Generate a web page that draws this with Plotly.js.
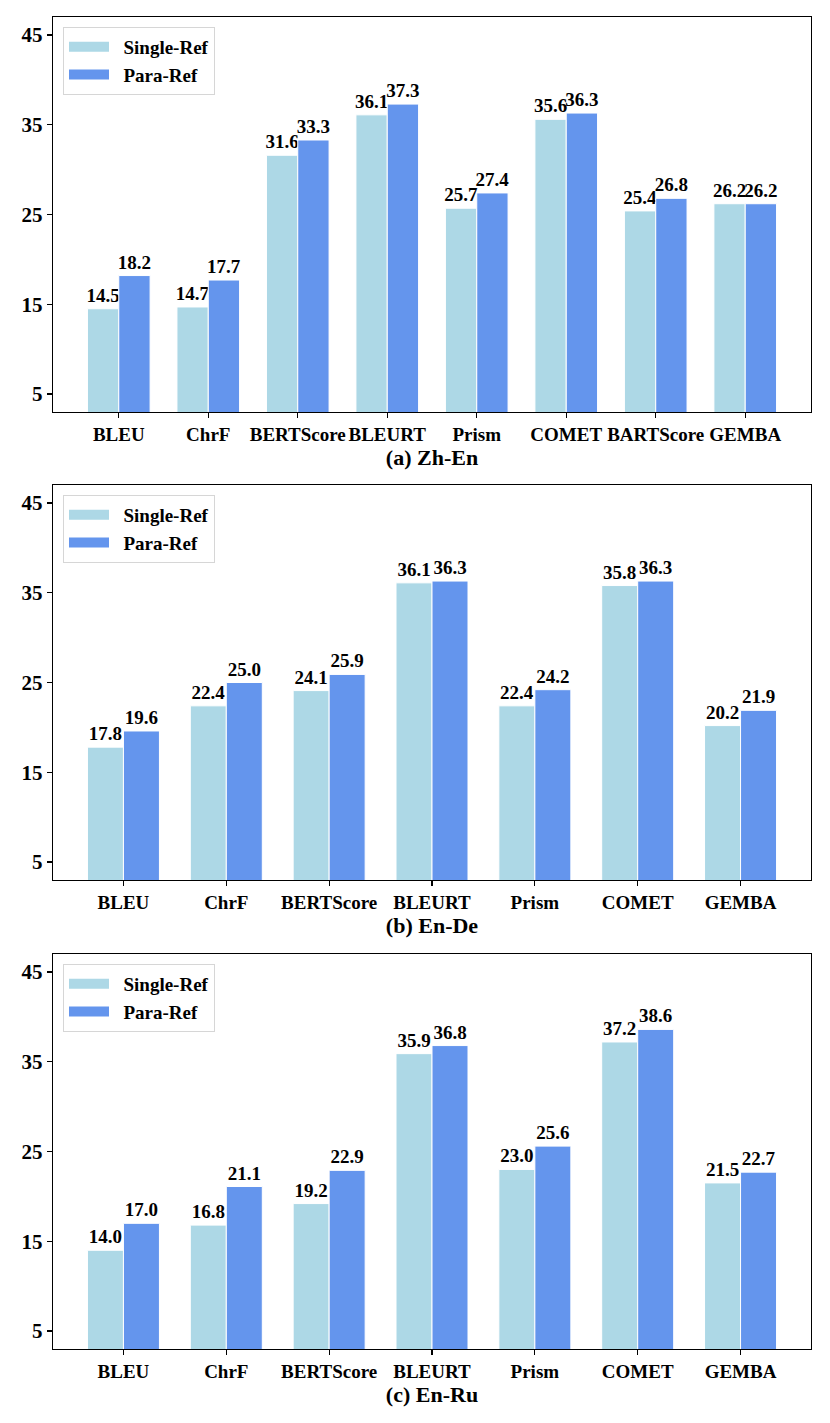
<!DOCTYPE html>
<html>
<head>
<meta charset="utf-8">
<script src="https://cdn.plot.ly/plotly-3.0.1.min.js"></script>
<style>html,body{margin:0;padding:0;background:#fff;}#chart{width:830px;height:1423px;}</style>
</head>
<body>
<div id="chart"></div>
<script>
const catsZhEn = ["BLEU","ChrF","BERTScore","BLEURT","Prism","COMET","BARTScore","GEMBA"];
const singleZhEn = [14.5,14.7,31.6,36.1,25.7,35.6,25.4,26.2];
const paraZhEn   = [18.2,17.7,33.3,37.3,27.4,36.3,26.8,26.2];

const catsEnDe = ["BLEU","ChrF","BERTScore","BLEURT","Prism","COMET","GEMBA"];
const singleEnDe = [17.8,22.4,24.1,36.1,22.4,35.8,20.2];
const paraEnDe   = [19.6,25.0,25.9,36.3,24.2,36.3,21.9];

const catsEnRu = ["BLEU","ChrF","BERTScore","BLEURT","Prism","COMET","GEMBA"];
const singleEnRu = [14.0,16.8,19.2,35.9,23.0,37.2,21.5];
const paraEnRu   = [17.0,21.1,22.9,36.8,25.6,38.6,22.7];

const subTitles = ["(a) Zh-En","(b) En-De","(c) En-Ru"];
const seriesNames = ["Single-Ref","Para-Ref"];
const yTicks = [5,15,25,35,45];

const LIGHT = "#ADD8E6", DARK = "#6495ED";
const FONT = "Liberation Serif";

const panels = [
  {cats: catsZhEn, s: singleZhEn, p: paraZhEn},
  {cats: catsEnDe, s: singleEnDe, p: paraEnDe},
  {cats: catsEnRu, s: singleEnRu, p: paraEnRu}
];

const traces = [];
panels.forEach((pn, i) => {
  const ax = i === 0 ? "" : String(i + 1);
  const lg = i === 0 ? "legend" : "legend" + (i + 1);
  [[pn.s, LIGHT, seriesNames[0]], [pn.p, DARK, seriesNames[1]]].forEach(([vals, col, name]) => {
    traces.push({
      type: "bar",
      x: pn.cats.map((c, k) => k),
      y: vals,
      name: name,
      showlegend: false,
      xaxis: "x" + ax,
      yaxis: "y" + ax,
      marker: {color: col, line: {color: "white", width: 1}},
      text: vals.map(v => "<b>" + v.toFixed(1) + "</b>"),
      texttemplate: "%{text}",
      textposition: "outside",
      constraintext: "none",
      cliponaxis: false,
      textfont: {family: FONT, size: 19, color: "black"},
      hoverinfo: "skip"
    });
    // legend swatch entry (wide rectangle like the reference legend)
    traces.push({
      type: "scatter", mode: "lines",
      x: [null], y: [null],
      name: "\u00A0\u00A0<b>" + name + "</b>",
      legend: lg,
      xaxis: "x" + ax, yaxis: "y" + ax,
      line: {color: col, width: 12},
      hoverinfo: "skip"
    });
  });
});

const plotH = 1423 - 17 - 74;
function dom(topPx, botPx) { return [1 - (botPx - 17) / plotH, 1 - (topPx - 17) / plotH]; }
const domains = [dom(17, 412), dom(485, 880), dom(954, 1349)];

const layout = {
  width: 830, height: 1423,
  margin: {l: 53, r: 19, t: 17, b: 74},
  paper_bgcolor: "white", plot_bgcolor: "white",
  barmode: "group", bargap: 0.3, bargroupgap: 0,
  font: {family: FONT, color: "black"},
  showlegend: true
};

panels.forEach((pn, i) => {
  const ax = i === 0 ? "" : String(i + 1);
  const n = pn.cats.length;
  const pad = 0.35 + 0.05 * (n - 1 + 0.7);
  layout["xaxis" + ax] = {
    domain: [0, 1],
    anchor: "y" + ax,
    range: [-pad, n - 1 + pad],
    tickmode: "array",
    tickvals: pn.cats.map((c, k) => k),
    ticktext: pn.cats.map(c => "<b>" + c + "</b>"),
    ticks: "outside", ticklen: 5, tickwidth: 1.2, tickcolor: "black",
    showline: true, mirror: true, linecolor: "black", linewidth: 1.2,
    showgrid: false, zeroline: false,
    tickfont: {family: FONT, size: 19, color: "black"},
    title: {text: "<b>" + subTitles[i] + "</b>", font: {family: FONT, size: 22, color: "black"}, standoff: 2}
  };
  layout["yaxis" + ax] = {
    domain: domains[i],
    anchor: "x" + ax,
    range: [3, 47],
    tickmode: "array",
    tickvals: yTicks,
    ticktext: yTicks.map(t => "<b>" + t + "</b>"),
    ticks: "outside", ticklen: 5, tickwidth: 1.2, tickcolor: "black",
    showline: true, mirror: true, linecolor: "black", linewidth: 1.2,
    showgrid: false, zeroline: false,
    tickfont: {family: FONT, size: 21, color: "black"}
  };
  const lg = i === 0 ? "legend" : "legend" + (i + 1);
  const topPx = [27, 495, 964][i];
  layout[lg] = {
    x: 10 / 758, y: 1 - (topPx - 17) / plotH,
    xanchor: "left", yanchor: "top",
    bgcolor: "white", bordercolor: "#d6d6d6", borderwidth: 1,
    font: {family: FONT, size: 19, color: "black"},
    itemwidth: 40, tracegroupgap: 4
  };
});

Plotly.newPlot("chart", traces, layout, {staticPlot: true, displayModeBar: false});
</script>
</body>
</html>
